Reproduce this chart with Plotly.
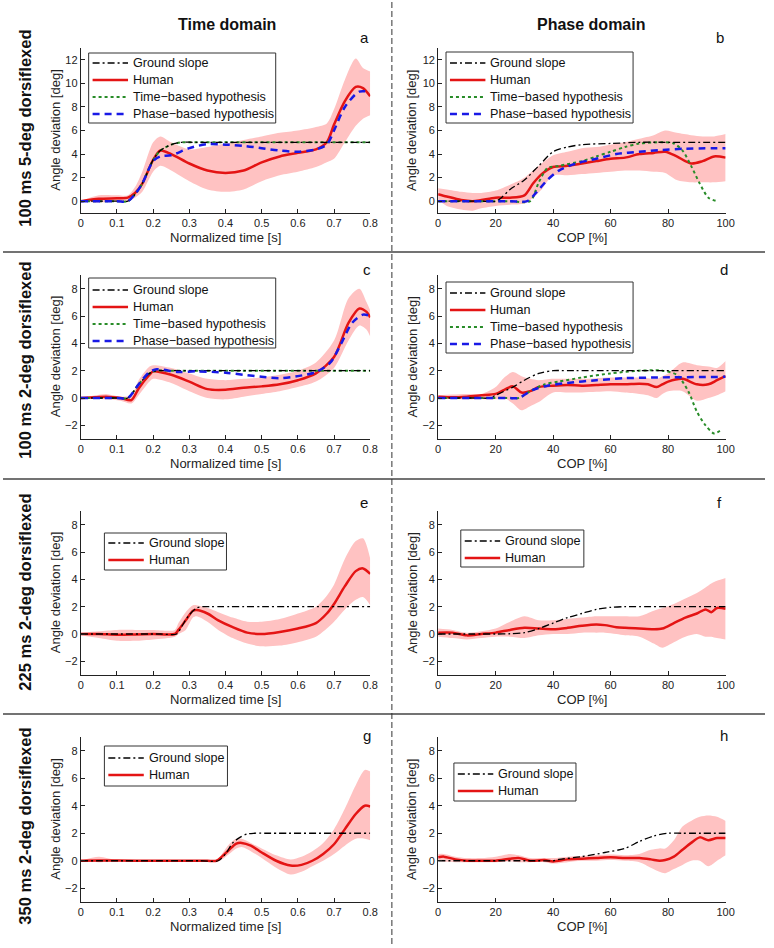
import plotly.graph_objects as go

# ---------------- DATA ----------------
# Panel a (time domain, 100 ms 5-deg)
A_X = [0, 0.05, 0.1, 0.13, 0.15, 0.17, 0.2, 0.22, 0.25, 0.3, 0.35, 0.4, 0.45, 0.5, 0.55, 0.6, 0.65, 0.68, 0.7, 0.73, 0.76, 0.78, 0.8]
A_HUMAN = [0, 0.2, 0.25, 0.3, 0.7, 1.5, 3.5, 4.3, 4.0, 3.2, 2.6, 2.4, 2.6, 3.3, 3.8, 4.1, 4.4, 5.0, 6.5, 8.5, 9.7, 9.6, 8.9]
A_UP = [0, 0.5, 0.5, 0.5, 1.2, 2.5, 5.0, 5.5, 5.0, 4.4, 4.6, 4.9, 5.2, 5.5, 5.8, 6.0, 6.3, 6.6, 7.8, 10.3, 12.1, 11.3, 11.0]
A_LO = [0, -0.1, 0, 0, 0.3, 0.8, 2.5, 3.0, 2.6, 1.7, 1.0, 0.8, 1.0, 1.7, 2.2, 2.5, 2.9, 3.3, 3.6, 5.0, 6.4, 7.0, 7.3]
A_GX = [0, 0.1, 0.13, 0.15, 0.17, 0.2, 0.22, 0.25, 0.28, 0.31, 0.8]
A_GROUND = [0, 0, 0, 0.6, 1.5, 3.5, 4.3, 4.8, 5.0, 5.0, 5.0]
A_TIME = [0, 0, 0, 0.6, 1.5, 3.5, 4.3, 4.8, 5.0, 5.0, 5.0]
A_PX = [0, 0.1, 0.13, 0.15, 0.17, 0.2, 0.22, 0.25, 0.3, 0.35, 0.4, 0.45, 0.5, 0.55, 0.6, 0.65, 0.68, 0.7, 0.73, 0.77, 0.8]
A_PHASE = [0, 0, 0, 0.6, 1.5, 3.4, 3.8, 3.9, 4.5, 4.85, 4.8, 4.7, 4.5, 4.3, 4.2, 4.4, 4.8, 6.0, 8.0, 9.3, 9.25]

# Panel b (phase domain, 100 ms 5-deg)
B_X = [0, 3, 8, 12, 15, 20, 25, 30, 33, 36, 40, 45, 50, 55, 60, 65, 70, 75, 79, 83, 88, 92, 96, 100]
B_HUMAN = [0.6, 0.4, 0.1, 0.0, 0.1, 0.3, 0.3, 0.5, 1.5, 2.3, 2.9, 3.0, 3.2, 3.4, 3.6, 3.7, 4.0, 4.1, 4.2, 3.8, 3.2, 3.4, 3.8, 3.7]
B_UP = [1.1, 1.0, 0.8, 0.7, 0.7, 0.9, 1.4, 2.0, 2.6, 3.2, 3.9, 4.2, 4.5, 4.6, 4.8, 5.0, 5.3, 5.6, 6.0, 5.8, 5.6, 5.5, 5.5, 5.7]
B_LO = [0.1, -0.4, -0.7, -0.8, -0.6, -0.4, -0.3, -0.2, 0.3, 1.0, 2.2, 2.2, 2.3, 2.4, 2.5, 2.6, 2.6, 2.5, 2.4, 1.8, 1.6, 1.6, 1.6, 1.7]
B_GX = [0, 15, 20, 22, 25, 30, 35, 40, 45, 50, 60, 70, 80, 100]
B_GROUND = [0, 0, 0, 0.3, 1.0, 1.8, 3.0, 4.2, 4.6, 4.8, 4.9, 5.0, 5.0, 5.0]
B_TX = [0, 25, 32, 35, 38, 42, 50, 55, 60, 65, 70, 78, 82, 85, 88, 91, 94, 97]
B_TIME = [0, 0, 0, 1.6, 2.8, 3.0, 3.4, 3.8, 4.2, 4.6, 4.9, 5.0, 4.9, 4.3, 3.0, 1.5, 0.3, 0.0]
B_PX = [0, 25, 31, 34, 38, 42, 48, 55, 62, 70, 78, 85, 100]
B_PHASE = [0, 0, 0, 0.7, 1.8, 2.6, 3.2, 3.6, 4.0, 4.2, 4.35, 4.45, 4.5]

# Panel c (time domain, 100 ms 2-deg)
C_X = [0, 0.04, 0.07, 0.11, 0.14, 0.16, 0.19, 0.2, 0.25, 0.3, 0.35, 0.4, 0.45, 0.5, 0.55, 0.6, 0.65, 0.7, 0.74, 0.77, 0.79, 0.8]
C_HUMAN = [0, 0.05, 0.1, 0.0, -0.15, 0.7, 1.7, 1.95, 1.7, 1.2, 0.65, 0.6, 0.75, 0.85, 1.0, 1.3, 1.8, 3.0, 5.5, 6.55, 6.3, 5.9]
C_UP = [0, 0.2, 0.3, 0.1, 0.2, 1.3, 2.3, 2.4, 2.2, 1.8, 1.4, 1.3, 1.4, 1.5, 1.7, 2.0, 2.6, 4.2, 7.3, 8.0, 7.0, 6.4]
C_LO = [0, -0.05, -0.1, -0.2, -0.4, 0.2, 1.2, 1.4, 1.1, 0.5, 0.0, -0.1, 0.1, 0.3, 0.5, 0.8, 1.2, 2.2, 4.2, 5.3, 5.0, 4.5]
C_GX = [0, 0.1, 0.13, 0.16, 0.19, 0.21, 0.24, 0.8]
C_GROUND = [0, 0, 0, 1.0, 1.8, 2.0, 2.0, 2.0]
C_TIME = [0, 0, 0, 1.0, 1.8, 2.0, 2.0, 2.0]
C_PX = [0, 0.1, 0.13, 0.16, 0.19, 0.21, 0.27, 0.32, 0.4, 0.45, 0.5, 0.55, 0.6, 0.65, 0.69, 0.72, 0.75, 0.78, 0.8]
C_PHASE = [0, 0, 0, 1.0, 1.9, 2.1, 1.9, 1.95, 1.85, 1.7, 1.55, 1.45, 1.6, 1.9, 2.6, 4.0, 5.5, 6.1, 6.0]

# Panel d (phase domain, 100 ms 2-deg)
D_X = [0, 5, 10, 15, 20, 23, 26, 29, 32, 35, 40, 45, 50, 55, 60, 65, 70, 73, 76, 78, 80, 85, 90, 94, 97, 100]
D_HUMAN = [0.1, 0.05, 0.1, 0.2, 0.3, 0.6, 0.85, 0.4, 0.5, 0.8, 0.9, 0.95, 0.9, 0.95, 1.0, 1.0, 1.05, 1.0, 0.8, 1.0, 1.2, 1.4, 1.0, 1.0, 1.3, 1.6]
D_UP = [0.2, 0.25, 0.3, 0.3, 0.8, 1.5, 1.9, 1.6, 1.4, 1.3, 1.4, 1.4, 1.4, 1.45, 1.5, 1.5, 1.5, 1.45, 1.4, 1.6, 1.8, 2.6, 2.4, 2.3, 2.2, 2.7]
D_LO = [0.0, -0.05, -0.1, -0.1, -0.1, 0.0, -0.4, -0.9, -0.6, -0.3, 0.4, 0.4, 0.4, 0.45, 0.5, 0.4, 0.3, 0.2, 0.0, 0.3, 0.5, 0.5, -0.2, 0.0, 0.2, 0.5]
D_GX = [0, 14, 18, 20, 26, 30, 35, 40, 45, 100]
D_GROUND = [0, 0, 0, 0.2, 0.8, 1.3, 1.8, 2.0, 2.0, 2.0]
D_TX = [0, 24, 28, 32, 37, 42, 50, 60, 70, 78, 83, 87, 90, 93, 96, 98]
D_TIME = [0, 0, 0, 0.5, 1.0, 1.2, 1.5, 1.8, 2.0, 2.0, 1.7, 0.5, -1.0, -2.0, -2.6, -2.4]
D_PX = [0, 24, 28, 33, 38, 45, 55, 65, 75, 100]
D_PHASE = [0, 0, 0, 0.6, 0.9, 1.1, 1.3, 1.45, 1.5, 1.55]

# Panel e (time domain, 225 ms 2-deg)
E_X = [0, 0.05, 0.1, 0.15, 0.2, 0.26, 0.27, 0.29, 0.31, 0.32, 0.35, 0.38, 0.42, 0.46, 0.5, 0.55, 0.6, 0.65, 0.68, 0.7, 0.73, 0.76, 0.78, 0.8]
E_HUMAN = [0, 0, -0.05, -0.03, 0, 0, 0.3, 1.0, 1.7, 1.75, 1.5, 1.0, 0.5, 0.1, 0.0, 0.15, 0.4, 0.8, 1.5, 2.2, 3.5, 4.6, 4.8, 4.4]
E_UP = [0.1, 0.2, 0.3, 0.3, 0.3, 0.3, 0.8, 1.6, 2.1, 2.1, 1.9, 1.6, 1.2, 0.9, 0.9, 1.1, 1.5, 2.0, 2.8, 3.6, 5.5, 6.8, 7.0, 5.5]
E_LO = [-0.1, -0.3, -0.5, -0.5, -0.4, -0.2, 0.0, 0.3, 1.2, 1.3, 0.9, 0.3, -0.3, -0.7, -0.9, -0.85, -0.6, -0.2, 0.4, 0.9, 1.8, 2.5, 2.7, 2.1]
E_GX = [0, 0.22, 0.265, 0.28, 0.3, 0.32, 0.335, 0.36, 0.8]
E_GROUND = [0, 0, 0, 0.6, 1.4, 1.9, 2.0, 2.0, 2.0]

# Panel f (phase domain, 225 ms 2-deg)
F_X = [0, 5, 10, 15, 20, 25, 30, 35, 40, 45, 50, 55, 58, 62, 65, 70, 75, 78, 82, 86, 90, 93, 95, 97, 100]
F_HUMAN = [0.1, 0.1, -0.1, 0.0, 0.1, 0.3, 0.45, 0.4, 0.35, 0.45, 0.6, 0.7, 0.65, 0.5, 0.45, 0.4, 0.35, 0.4, 0.8, 1.2, 1.5, 1.8, 1.6, 1.9, 1.85]
F_UP = [0.4, 0.3, 0.1, 0.2, 0.4, 0.9, 1.3, 1.0, 1.0, 1.1, 1.2, 1.3, 1.3, 1.3, 1.3, 1.3, 1.7, 1.9, 2.2, 2.6, 3.0, 3.4, 3.7, 3.9, 4.1]
F_LO = [-0.2, -0.3, -0.4, -0.3, -0.2, -0.2, -0.3, -0.1, 0.0, 0.0, 0.1, 0.1, 0.1, 0.0, -0.1, -0.2, -0.7, -1.0, -0.6, -0.2, 0.0, -0.2, -0.2, -0.3, -0.4]
F_GX = [0, 15, 20, 25, 30, 35, 40, 45, 50, 55, 60, 65, 70, 100]
F_GROUND = [0, 0, 0, 0.02, 0.1, 0.4, 0.8, 1.2, 1.5, 1.8, 1.95, 2.0, 2.0, 2.0]

# Panel g (time domain, 350 ms 2-deg)
G_X = [0, 0.05, 0.1, 0.2, 0.3, 0.35, 0.375, 0.39, 0.41, 0.43, 0.445, 0.47, 0.5, 0.54, 0.58, 0.61, 0.64, 0.67, 0.7, 0.73, 0.76, 0.785, 0.8]
G_HUMAN = [0, 0.02, 0.02, 0, 0, 0, 0, 0.3, 0.8, 1.25, 1.3, 1.1, 0.6, 0.0, -0.35, -0.3, 0.0, 0.5, 1.2, 2.3, 3.4, 4.0, 3.95]
G_UP = [0, 0.3, 0.05, 0.05, 0.05, 0.05, 0.05, 0.5, 1.2, 1.6, 1.6, 1.3, 0.9, 0.4, 0.1, 0.3, 0.7, 1.3, 2.3, 3.8, 5.5, 6.6, 6.5]
G_LO = [0, -0.1, -0.05, -0.05, -0.05, -0.05, -0.05, 0.1, 0.5, 0.9, 1.0, 0.7, 0.2, -0.5, -1.0, -0.8, -0.4, 0.0, 0.5, 1.1, 1.6, 1.6, 1.5]
G_GX = [0, 0.33, 0.38, 0.4, 0.42, 0.44, 0.46, 0.48, 0.51, 0.8]
G_GROUND = [0, 0, 0, 0.5, 1.3, 1.7, 1.95, 2.0, 2.0, 2.0]

# Panel h (phase domain, 350 ms 2-deg)
H_X = [0, 2, 6, 10, 15, 20, 25, 28, 32, 37, 40, 45, 50, 55, 60, 65, 70, 74, 77, 79, 82, 85, 88, 91, 94, 97, 100]
H_HUMAN = [0.25, 0.3, 0.1, 0.0, 0.0, 0.0, 0.15, 0.2, 0.0, 0.05, -0.05, 0.1, 0.15, 0.2, 0.25, 0.2, 0.2, 0.1, 0.0, 0.05, 0.3, 0.8, 1.3, 1.7, 1.5, 1.65, 1.65]
H_UP = [0.5, 0.5, 0.3, 0.2, 0.2, 0.3, 0.5, 0.4, 0.2, 0.2, 0.2, 0.3, 0.35, 0.4, 0.45, 0.4, 0.5, 0.8, 0.9, 0.9, 1.5, 2.5, 2.9, 3.2, 3.3, 3.2, 2.9]
H_LO = [0.0, -0.05, -0.1, -0.1, -0.1, -0.1, -0.05, -0.1, -0.1, -0.1, -0.2, -0.1, 0.0, 0.0, 0.05, 0.0, -0.1, -0.5, -0.8, -0.9, -0.6, -0.3, 0.0, 0.0, -0.4, 0.0, 0.4]
H_GX = [0, 35, 40, 42, 50, 58, 65, 70, 75, 80, 85, 100]
H_GROUND = [0, 0, 0, 0.1, 0.3, 0.6, 0.9, 1.4, 1.8, 2.0, 2.0, 2.0]

PANEL_LETTERS = ["a", "b", "c", "d", "e", "f", "g", "h"]
ROW_LABELS = ["100 ms 5-deg dorsiflexed", "100 ms 2-deg dorsiflexed",
              "225 ms 2-deg dorsiflexed", "350 ms 2-deg dorsiflexed"]
COL_TITLES = ["Time domain", "Phase domain"]
X_TITLES = ["Normalized time [s]", "COP [%]"]
Y_TITLE = "Angle deviation [deg]"
SERIES_NAMES = ["Ground slope", "Human", "Time\u2212based hypothesis", "Phase\u2212based hypothesis"]
TIME_TICKS = [0, 0.1, 0.2, 0.3, 0.4, 0.5, 0.6, 0.7, 0.8]
COP_TICKS = [0, 20, 40, 60, 80, 100]
Y_TICKS_A = [0, 2, 4, 6, 8, 10, 12]
Y_TICKS = [-2, 0, 2, 4, 6, 8]

# ---------------- STYLE ----------------
W, H = 774, 948
FONT = "Liberation Sans, Arial, sans-serif"
RED = "rgb(228,20,20)"
BAND = "rgba(255,194,194,1)"
GREEN = "rgb(40,140,40)"
BLUE = "rgb(25,25,230)"
AX = "#222222"
STYLES = {
    "Ground slope": dict(color="black", width=1.3, dash="7px,3px,2px,3px"),
    "Human": dict(color=RED, width=2.5, dash="solid"),
    "Time\u2212based hypothesis": dict(color=GREEN, width=2, dash="dot"),
    "Phase\u2212based hypothesis": dict(color=BLUE, width=2.5, dash="7px,5px"),
}
SMOOTH = 0.8


def px_x(p):
    return p / W


def px_y(p):
    return 1 - p / H


panels = [
    dict(x=A_X, hu=A_HUMAN, up=A_UP, lo=A_LO, gx=A_GX, g=A_GROUND, tx=A_GX, t=A_TIME, pxs=A_PX, p=A_PHASE),
    dict(x=B_X, hu=B_HUMAN, up=B_UP, lo=B_LO, gx=B_GX, g=B_GROUND, tx=B_TX, t=B_TIME, pxs=B_PX, p=B_PHASE),
    dict(x=C_X, hu=C_HUMAN, up=C_UP, lo=C_LO, gx=C_GX, g=C_GROUND, tx=C_GX, t=C_TIME, pxs=C_PX, p=C_PHASE),
    dict(x=D_X, hu=D_HUMAN, up=D_UP, lo=D_LO, gx=D_GX, g=D_GROUND, tx=D_TX, t=D_TIME, pxs=D_PX, p=D_PHASE),
    dict(x=E_X, hu=E_HUMAN, up=E_UP, lo=E_LO, gx=E_GX, g=E_GROUND),
    dict(x=F_X, hu=F_HUMAN, up=F_UP, lo=F_LO, gx=F_GX, g=F_GROUND),
    dict(x=G_X, hu=G_HUMAN, up=G_UP, lo=G_LO, gx=G_GX, g=G_GROUND),
    dict(x=H_X, hu=H_HUMAN, up=H_UP, lo=H_LO, gx=H_GX, g=H_GROUND),
]

# pixel geometry
COLS = [(79, 373), (442, 734)]
ROWS = [(48, 213), (275, 439), (511, 675), (737, 902)]
YTITLE_X = [53, 415]
# legend boxes: x0, y0, x1, y1, first-row y
LEGENDS = [(87, 53, 277, 123, 63), (450, 52, 640, 123, 63), (87, 278, 277, 348, 290), (450, 282, 640, 353, 293),
           (103, 533, 227, 570, 543), (465, 530, 590, 567, 541), (103, 746, 228, 786, 758), (458, 763, 582, 801, 774)]
LETTER_POS = [(367, 38), (728, 38), (370, 270), (732, 270), (367, 502), (728, 502), (370, 735), (732, 735)]

fig = go.Figure()
annotations, shapes = [], []
layout = dict(
    width=W, height=H, margin=dict(l=0, r=0, t=0, b=0),
    paper_bgcolor="white", plot_bgcolor="white", showlegend=False,
    font=dict(family=FONT, color=AX),
)

for i, pnl in enumerate(panels):
    n = i + 1
    xa = "x" if n == 1 else f"x{n}"
    ya = "y" if n == 1 else f"y{n}"
    sp = dict(shape="spline", smoothing=SMOOTH)
    # variability band
    fig.add_trace(go.Scatter(x=pnl["x"], y=pnl["lo"], mode="lines", line=dict(width=0, **sp),
                             hoverinfo="skip", xaxis=xa, yaxis=ya))
    fig.add_trace(go.Scatter(x=pnl["x"], y=pnl["up"], mode="lines", line=dict(width=0, **sp),
                             fill="tonexty", fillcolor=BAND, hoverinfo="skip", xaxis=xa, yaxis=ya))
    names = ["Ground slope", "Human"]
    fig.add_trace(go.Scatter(x=pnl["x"], y=pnl["hu"], mode="lines", name="Human",
                             line=dict(**STYLES["Human"], **sp), xaxis=xa, yaxis=ya))
    if "t" in pnl:
        names.append(SERIES_NAMES[2])
        fig.add_trace(go.Scatter(x=pnl["tx"], y=pnl["t"], mode="lines", name=SERIES_NAMES[2],
                                 line=dict(**STYLES[SERIES_NAMES[2]], **sp), xaxis=xa, yaxis=ya))
    fig.add_trace(go.Scatter(x=pnl["gx"], y=pnl["g"], mode="lines", name="Ground slope",
                             line=dict(**STYLES["Ground slope"], **sp), xaxis=xa, yaxis=ya))
    if "p" in pnl:
        names.append(SERIES_NAMES[3])
        fig.add_trace(go.Scatter(x=pnl["pxs"], y=pnl["p"], mode="lines", name=SERIES_NAMES[3],
                                 line=dict(**STYLES[SERIES_NAMES[3]], **sp), xaxis=xa, yaxis=ya))

    col, row = i % 2, i // 2
    l, r = COLS[col]
    t, b = ROWS[row]
    is_time = col == 0
    xkey = "xaxis" if n == 1 else f"xaxis{n}"
    ykey = "yaxis" if n == 1 else f"yaxis{n}"
    axis_common = dict(showline=True, linecolor=AX, linewidth=1, mirror=False, ticks="inside",
                       ticklen=4, tickcolor=AX, showgrid=False, zeroline=False,
                       tickfont=dict(size=11, family=FONT, color=AX))
    xt = TIME_TICKS if is_time else COP_TICKS
    layout[xkey] = dict(axis_common, domain=[px_x(l), px_x(r)], anchor=ya,
                        range=[0, 0.8] if is_time else [0, 100],
                        tickvals=xt, ticktext=[f"{v:g}" for v in xt])
    yt = Y_TICKS_A if row == 0 else Y_TICKS
    layout[ykey] = dict(axis_common, domain=[px_y(b), px_y(t)], anchor=xa,
                        range=[-1, 13] if row == 0 else [-3, 9],
                        tickvals=yt, ticktext=[("\u2212" + str(-v)) if v < 0 else str(v) for v in yt])
    # axis titles
    annotations.append(dict(text=X_TITLES[col], x=px_x((l + r) / 2), y=px_y(b + 24), xref="paper", yref="paper",
                            showarrow=False, xanchor="center", yanchor="middle",
                            font=dict(size=13, family=FONT, color=AX)))
    annotations.append(dict(text=Y_TITLE, x=px_x(YTITLE_X[col]), y=px_y((t + b) / 2), xref="paper", yref="paper",
                            showarrow=False, xanchor="center", yanchor="middle", textangle=-90,
                            font=dict(size=13, family=FONT, color=AX)))

    # legend box (drawn as paper shapes + text)
    x0, y0, x1, y1, r0 = LEGENDS[i]
    shapes.append(dict(type="rect", xref="paper", yref="paper", x0=px_x(x0), x1=px_x(x1),
                       y0=px_y(y1), y1=px_y(y0), line=dict(color="#333", width=1), fillcolor="white",
                       layer="above"))
    for k, nm in enumerate(names):
        yy = r0 + 17 * k
        st = STYLES[nm]
        shapes.append(dict(type="line", xref="paper", yref="paper", x0=px_x(x0 + 4), x1=px_x(x0 + 40),
                           y0=px_y(yy), y1=px_y(yy), layer="above",
                           line=dict(color=st["color"], width=st["width"], dash=st["dash"])))
        annotations.append(dict(text=nm, x=px_x(x0 + 43), y=px_y(yy), xref="paper", yref="paper",
                                showarrow=False, xanchor="left", yanchor="middle",
                                font=dict(size=12.6, family=FONT, color="#111")))
    ax_, ay_ = LETTER_POS[i]
    annotations.append(dict(text=PANEL_LETTERS[i], x=px_x(ax_), y=px_y(ay_), xref="paper", yref="paper",
                            showarrow=False, font=dict(size=15, family=FONT, color="#111"),
                            xanchor="center", yanchor="middle"))

for txt, cx in zip(COL_TITLES, [228, 597]):
    annotations.append(dict(text=f"<b>{txt}</b>", x=px_x(cx), y=px_y(24), xref="paper", yref="paper",
                            showarrow=False, font=dict(size=16, family=FONT, color="#111"),
                            xanchor="center", yanchor="middle"))
for txt, cy in zip(ROW_LABELS, [128, 360, 592, 826]):
    annotations.append(dict(text=f"<b>{txt}</b>", x=px_x(22), y=px_y(cy), xref="paper", yref="paper",
                            showarrow=False, textangle=-90, font=dict(size=16.5, family=FONT, color="#111"),
                            xanchor="center", yanchor="middle"))
for sy in [252, 479, 714]:
    shapes.append(dict(type="line", xref="paper", yref="paper", x0=0, x1=1, y0=px_y(sy), y1=px_y(sy),
                       line=dict(color="#444", width=1.5)))
shapes.append(dict(type="line", xref="paper", yref="paper", x0=px_x(395), x1=px_x(395),
                   y0=px_y(944), y1=1, line=dict(color="#333", width=1, dash="6px,3px")))

layout["annotations"] = annotations
layout["shapes"] = shapes
fig.update_layout(**layout)
fig.write_html("out.html", config={"displayModeBar": False, "staticPlot": True},
               post_script="document.body.style.margin='0px';")
